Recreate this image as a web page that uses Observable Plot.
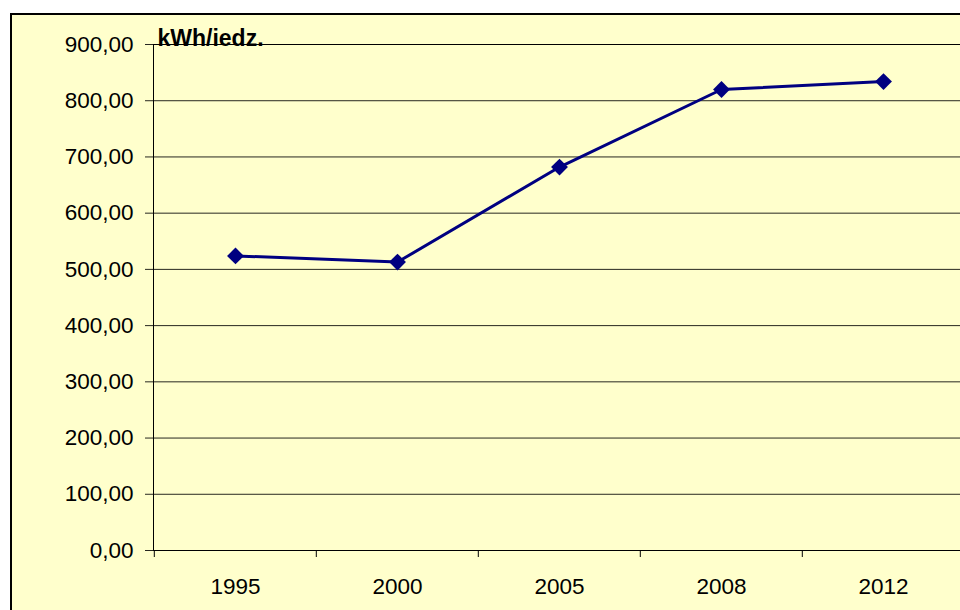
<!DOCTYPE html>
<html>
<head>
<meta charset="utf-8">
<script src="https://cdn.jsdelivr.net/npm/d3@7"></script>
<script src="https://cdn.jsdelivr.net/npm/@observablehq/plot@0.6"></script>
<style>
  html, body { margin: 0; padding: 0; background: #ffffff; overflow: hidden; width: 960px; height: 610px; }
  #bg { position: absolute; left: 10px; top: 13px; width: 1000px; height: 700px; border: 2px solid #000; background: #ffffcc; }
  #chart { position: absolute; left: 0; top: 0; width: 980px; }
  #chart svg { max-width: none !important; }
</style>
</head>
<body>
<div id="bg"></div>
<div id="chart"></div>
<script>
const years = ["1995", "2000", "2005", "2008", "2012"];
const values = [524, 513, 682, 820, 834];
const yTicks = [0, 100, 200, 300, 400, 500, 600, 700, 800, 900];
const unitLabel = "kWh/iedz.";

const data = years.map((year, i) => ({year, value: values[i]}));
const fmt = d => d.toFixed(2).replace(".", ",");

const W = 970, H = 610, ML = 153, MR = 5, MT = 44, MB = 60;
const step = (W - ML - MR) / years.length;

const chart = Plot.plot({
  width: W,
  height: H,
  marginLeft: ML,
  marginRight: MR,
  marginTop: MT,
  marginBottom: MB,
  style: {fontFamily: "'Liberation Sans', Arial, sans-serif", fontSize: "22px", background: "transparent", color: "#000", overflow: "visible", maxWidth: "none"},
  x: {type: "point", domain: years, padding: 0.5},
  y: {domain: [0, 900]},
  marks: [
    Plot.ruleY(yTicks, {stroke: "#000", strokeWidth: 1, strokeOpacity: 0.85}),
    Plot.frame({stroke: "#000", strokeWidth: 1}),
    Plot.axisY({ticks: yTicks, tickFormat: fmt, tickSize: 8, tickPadding: 12, label: null, fontSize: 22.5, stroke: "#000", strokeOpacity: 0.85}),
    Plot.axisX({tickSize: 7, tickFormat: () => "", dx: -step / 2, label: null, stroke: "#000"}),
    Plot.axisX({tickSize: 0, tickPadding: 28, label: null, fontSize: 22.5}),
    Plot.line(data, {x: "year", y: "value", stroke: "#000080", strokeWidth: 3}),
    Plot.dot(data, {x: "year", y: "value", symbol: "diamond2", r: 7.6, fill: "#000080", stroke: "none"}),
    Plot.text([unitLabel], {frameAnchor: "top-left", text: d => d, textAnchor: "start", lineAnchor: "bottom", dx: 4, dy: 1, fontWeight: "bold", fontSize: 23, fill: "#000"})
  ]
});
document.getElementById("chart").appendChild(chart);
</script>
</body>
</html>
